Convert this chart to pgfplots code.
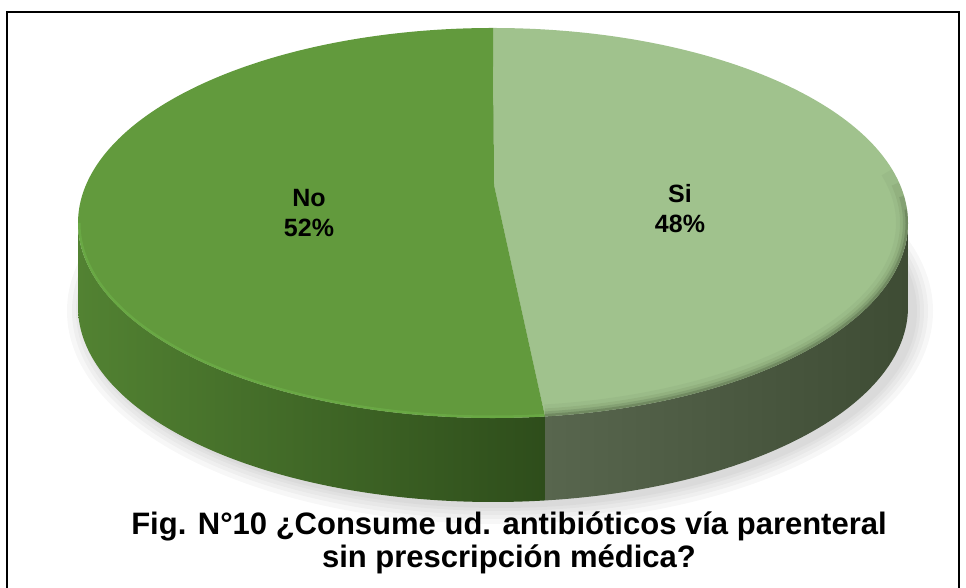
\documentclass[border=0pt]{standalone}
\usepackage{pgfplots}
\pgfplotsset{compat=1.18}
\usepackage{fontspec}
\setmainfont{Liberation Sans}
\definecolor{noTop}{RGB}{98,154,61}
\definecolor{siTop}{RGB}{160,194,141}
\definecolor{noSideL}{RGB}{82,130,50}
\definecolor{noSideR}{RGB}{46,77,27}
\definecolor{siSideL}{RGB}{88,102,78}
\definecolor{siSideR}{RGB}{62,76,52}
\definecolor{rimHi}{RGB}{112,180,74}
\definecolor{rimDk}{RGB}{72,90,60}
% data (percent)
\def\valSi{48}
\def\valNo{52}
\pgfmathsetmacro\splitA{90-3.6*\valSi}
\pgfmathsetmacro\splitB{\splitA+360}
\pgfmathsetmacro\sx{493+415*cos(\splitA)}
\pgfmathsetmacro\sy{365+195*sin(\splitA)}
\pgfmathsetmacro\syb{\sy-84}
\begin{document}
\begin{tikzpicture}
\begin{axis}[scale only axis, width=966pt, height=588pt,
  xmin=0, xmax=966, ymin=0, ymax=588, hide axis, clip=false]
% soft shadow
\fill[black, opacity=0.03] (axis cs:500,277) ellipse [x radius=433, y radius=213];
\fill[black, opacity=0.03] (axis cs:500,277) ellipse [x radius=428, y radius=208];
\fill[black, opacity=0.03] (axis cs:500,277) ellipse [x radius=424, y radius=204];
\fill[black, opacity=0.03] (axis cs:500,277) ellipse [x radius=420, y radius=200];
\fill[black, opacity=0.03] (axis cs:500,277) ellipse [x radius=417, y radius=197];
% sides
\shade[left color=noSideL, right color=noSideR]
  (axis cs:78,365) arc [start angle=180, end angle=\splitB, x radius=415, y radius=195]
  -- (axis cs:\sx,\syb) arc [start angle=\splitB, end angle=180, x radius=415, y radius=195]
  -- cycle;
\shade[left color=siSideL, right color=siSideR]
  (axis cs:\sx,\sy) arc [start angle=\splitB, end angle=360, x radius=415, y radius=195]
  -- (axis cs:908,281) arc [start angle=360, end angle=\splitB, x radius=415, y radius=195]
  -- cycle;
% top faces
\fill[siTop] (axis cs:493,560) arc [start angle=90, end angle=\splitA, x radius=415, y radius=195]
  -- (axis cs:494,403) -- cycle;
\fill[noTop] (axis cs:\sx,\sy) arc [start angle=\splitA, end angle=-270, x radius=415, y radius=195]
  -- (axis cs:494,403) -- cycle;
% rim effects (clipped to each top face)
\begin{scope}
\clip (axis cs:\sx,\sy) arc [start angle=\splitA, end angle=-270, x radius=415, y radius=195]
  -- (axis cs:494,403) -- cycle;
\draw[rimHi, line width=5pt, opacity=0.55] (axis cs:78,365) arc [start angle=180, end angle=\splitB, x radius=415, y radius=195];
\end{scope}
\begin{scope}
\clip (axis cs:493,560) arc [start angle=90, end angle=\splitA, x radius=415, y radius=195]
  -- (axis cs:494,403) -- cycle;
\draw[rimDk, line width=5pt, opacity=0.3] (axis cs:\sx,\sy) arc [start angle=\splitB, end angle=364, x radius=415, y radius=195];
\draw[rimDk, line width=10pt, opacity=0.18] (axis cs:\sx,\sy) arc [start angle=\splitB, end angle=368, x radius=415, y radius=195];
\draw[rimDk, line width=16pt, opacity=0.1] (axis cs:\sx,\sy) arc [start angle=\splitB, end angle=372, x radius=415, y radius=195];
\draw[rimDk, line width=24pt, opacity=0.06] (axis cs:\sx,\sy) arc [start angle=\splitB, end angle=376, x radius=415, y radius=195];
\end{scope}
% labels
\node[anchor=base, font=\fontsize{25}{30}\selectfont\bfseries] at (axis cs:309,381) {No};
\node[anchor=base, font=\fontsize{25}{30}\selectfont\bfseries] at (axis cs:309,351) {\valNo\%};
\node[anchor=base, font=\fontsize{25}{30}\selectfont\bfseries] at (axis cs:680,385) {Si};
\node[anchor=base, font=\fontsize{25}{30}\selectfont\bfseries] at (axis cs:680,355) {\valSi\%};
% title
\node[anchor=base, font=\fontsize{31}{36}\selectfont\bfseries] at (axis cs:509,53) {Fig. N°10 ¿Consume ud. antibióticos vía parenteral};
\node[anchor=base, font=\fontsize{31}{36}\selectfont\bfseries] at (axis cs:509,20) {sin prescripción médica?};
% frame
\draw[black, line width=2pt] (axis cs:7,-10) -- (axis cs:7,576) -- (axis cs:959,576) -- (axis cs:959,-10);
\end{axis}
\pgfresetboundingbox
\useasboundingbox (0,0) rectangle (966pt,588pt);
\end{tikzpicture}
\end{document}
